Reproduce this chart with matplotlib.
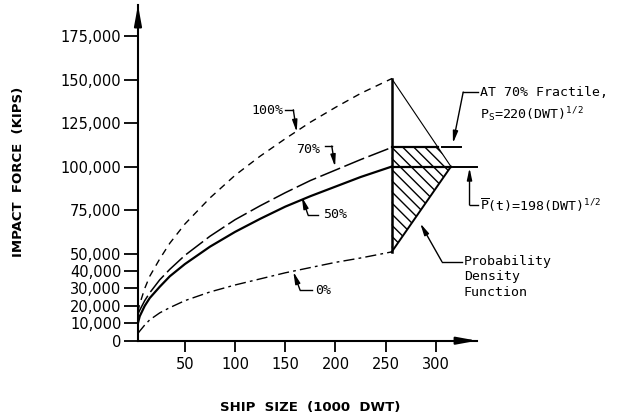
import numpy as np
import matplotlib
matplotlib.use("Agg")
import matplotlib.pyplot as plt
from matplotlib.ticker import FixedLocator, FuncFormatter

plt.rcParams['font.family'] = ['DejaVu Sans']
plt.rcParams['mathtext.fontset'] = 'custom'
plt.rcParams['mathtext.rm'] = 'DejaVu Sans Mono'
plt.rcParams['mathtext.it'] = 'DejaVu Sans Mono'

# ship size (1000 DWT) and impact force (kips)
ship_size = [3, 5, 10, 15, 25, 35, 50, 75, 100, 125, 150, 175, 200, 225, 256]
force_100 = [16500, 21000, 30000, 37000, 47000, 56000, 67000, 82000, 95000, 106000,
             116000, 125500, 134000, 142000, 150500]
force_70 = [15000, 17500, 23000, 27500, 35000, 41000, 49000, 60000, 69500, 77500,
            85000, 92000, 98000, 104000, 111000]
force_50 = [9500, 14000, 20000, 24500, 31000, 37000, 44000, 54000, 62500, 70000,
            77000, 83000, 88500, 94000, 100000]
force_0 = [4000, 5500, 9000, 12000, 16000, 19000, 23000, 28000, 32000, 35500,
           39000, 42000, 45000, 47500, 51000]

# probability density triangle drawn at 250,000 DWT
pdf_x = [256, 315, 256]
pdf_y = [150500, 100000, 51000]
fractile_70 = 111000
mean_force = 100000

x_ticks = [50, 100, 150, 200, 250, 300]
y_ticks = [0, 10000, 20000, 30000, 40000, 50000, 75000, 100000, 125000, 150000, 175000]

fig = plt.figure(figsize=(6.21, 4.2), dpi=100)
ax = fig.add_axes([0.2222, 0.1888, 0.546, 0.7993])
ax.set_xlim(3.3, 341)
ax.set_ylim(0, 192800)

for s in ['top', 'right']:
    ax.spines[s].set_visible(False)
for s in ['left', 'bottom']:
    ax.spines[s].set_linewidth(1.5)

# axis arrows
arr = dict(arrowstyle='-|>,head_length=1.2,head_width=0.22', color='k', lw=1.5, shrinkA=0, shrinkB=0)
ax.annotate('', xy=(341, 0), xytext=(320, 0), arrowprops=arr, annotation_clip=False)
ax.annotate('', xy=(3.3, 192800), xytext=(3.3, 180000), arrowprops=arr, annotation_clip=False)

ax.xaxis.set_major_locator(FixedLocator(x_ticks))
ax.yaxis.set_major_locator(FixedLocator(y_ticks))
ax.yaxis.set_major_formatter(FuncFormatter(lambda v, p: f"{v:,.0f}"))
ax.tick_params(axis='y', length=10, width=1.3, labelsize=10.5, pad=2)
ax.tick_params(axis='x', length=8, width=1.3, labelsize=10.5, pad=4)

# fractile curves
ax.plot(ship_size, force_100, color='k', lw=1, linestyle=(0, (5, 4)))
ax.plot(ship_size, force_70, color='k', lw=1.1, linestyle=(0, (14, 3)))
ax.plot(ship_size, force_50, color='k', lw=1.6, linestyle='-')
ax.plot(ship_size, force_0, color='k', lw=1, linestyle=(0, (8, 3, 2, 3)))

# density function
ax.plot([pdf_x[0], pdf_x[0]], [pdf_y[0], pdf_y[2]], color='k', lw=1.8)
ax.plot(pdf_x[:2], pdf_y[:2], color='k', lw=0.8)
ax.plot(pdf_x[1:], pdf_y[1:], color='k', lw=1.4)
x_frac = pdf_x[0] + (pdf_y[0] - fractile_70) / (pdf_y[0] - pdf_y[1]) * (pdf_x[1] - pdf_x[0])
ax.fill([pdf_x[0], x_frac, pdf_x[1], pdf_x[2]], [fractile_70, fractile_70, pdf_y[1], pdf_y[2]],
        facecolor='none', edgecolor='k', hatch='\\\\\\', lw=0)
ax.plot([pdf_x[0], x_frac], [fractile_70, fractile_70], color='k', lw=1.6)
ax.plot([pdf_x[0], pdf_x[1]], [mean_force, mean_force], color='k', lw=1.6)
ax.plot([306, 325], [fractile_70, fractile_70], color='k', lw=1.4, clip_on=False)
ax.plot([317, 341], [mean_force, mean_force], color='k', lw=1.4, clip_on=False)

# leaders
lead = dict(arrowstyle='-|>,head_length=0.7,head_width=0.15', color='k', lw=1, shrinkA=0, shrinkB=0)
mono = dict(family='DejaVu Sans Mono', fontsize=9.5)

def leader(pts, tip):
    xs = [p[0] for p in pts]
    ys = [p[1] for p in pts]
    ax.plot(xs, ys, color='k', lw=1, clip_on=False)
    ax.annotate('', xy=tip, xytext=pts[-1], arrowprops=lead, annotation_clip=False)

ax.text(148, 132300, '100%', ha='right', va='center', **mono)
leader([(150, 132600), (158, 132600)], (161.4, 119800))
ax.text(185, 109900, '70%', ha='right', va='center', **mono)
leader([(189.6, 111800), (196.3, 111800)], (199.6, 99900))
ax.text(187.6, 72200, '50%', ha='left', va='center', **mono)
leader([(182.6, 72200), (172.7, 72200)], (166.4, 82700))
ax.text(179.7, 29100, '0%', ha='left', va='center', **mono)
leader([(176.4, 29100), (164.7, 29100)], (158, 39600))

ax.text(344, 142800, 'AT 70% Fractile,', ha='left', va='center', **mono)
ax.text(344, 130000, r'P$_{\mathrm{S}}$=220(DWT)$^{\mathrm{1/2}}$', ha='left', va='center', **mono)
leader([(342, 142800), (327.2, 142800)], (317, 113400))

ax.text(344, 77900, r'$\overline{\mathrm{P}}$(t)=198(DWT)$^{\mathrm{1/2}}$', ha='left', va='center', **mono)
leader([(342, 77900), (333.5, 77900)], (333.5, 99200))

ax.text(328, 49500, 'Probability\nDensity\nFunction', ha='left', va='top', linespacing=1.25, **mono)
leader([(326, 45400), (306, 45400)], (284.4, 67400))

fig.text(0.029, 0.59, 'IMPACT  FORCE  (KIPS)', rotation=90, ha='center', va='center',
         fontsize=9.5, fontweight='bold')
fig.text(0.499, 0.029, 'SHIP  SIZE  (1000  DWT)', ha='center', va='center',
         fontsize=9.5, fontweight='bold')

fig.savefig('out.png', dpi=100)
